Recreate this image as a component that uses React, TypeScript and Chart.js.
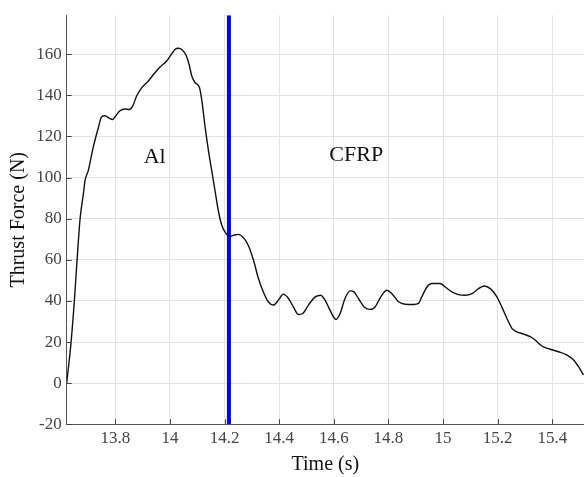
import React, { useEffect, useRef } from "react";
import { Chart, registerables } from "chart.js";

Chart.register(...registerables);

const times = [13.622,13.638,13.650,13.660,13.671,13.684,13.689,13.701,13.719,13.738,
13.750,13.762,13.778,13.790,13.799,13.817,13.836,13.851,13.864,13.878,
13.897,13.921,13.945,13.964,13.988,14.007,14.021,14.031,14.044,14.059,
14.070,14.080,14.092,14.108,14.117,14.129,14.141,14.153,14.165,14.177,
14.190,14.206,14.218,14.232,14.251,14.269,14.287,14.306,14.324,14.342,
14.360,14.379,14.397,14.415,14.434,14.452,14.470,14.486,14.507,14.532,
14.552,14.568,14.586,14.608,14.623,14.641,14.660,14.674,14.690,14.711,
14.733,14.751,14.772,14.794,14.812,14.837,14.861,14.892,14.910,14.922,
14.941,14.959,14.989,15.008,15.032,15.056,15.081,15.106,15.130,15.151,
15.173,15.197,15.215,15.234,15.252,15.270,15.295,15.319,15.337,15.362,
15.392,15.423,15.454,15.478,15.496,15.514];

const forces = [0,20,40,60,80,93,98.5,103.4,114.7,124.4,
129.6,130.1,128.9,128.3,129.6,132.5,133.4,133.1,134.9,139.7,
143.8,147,151,153.8,156.7,160.3,162.6,162.9,162.2,159.5,
155.1,149.4,146.2,143.8,137.3,124.4,113.1,103.4,93.7,84,
76.7,72.7,71.4,71.9,72.4,70.8,67,59.8,50.9,44.4,
39.6,38,40.4,43.3,41.2,37.1,33.4,33.9,38,42,
42.8,40.4,35.5,31,33.9,41.2,44.9,44.4,41.2,37.1,
35.9,37.1,42,45.2,43.6,39.6,38.4,38.3,38.8,42,
46.8,48.5,48.5,46.8,44.4,43.1,42.8,43.6,46,47.3,
46,42,37.1,31.5,26.7,25,23.9,22.6,21,18.1,
16.5,15.3,13.7,11.3,8,4];

const boundaryTime = 14.216;
const xRange = [13.622, 15.516];
const yRange = [-20, 179];
const regionLabels = ["Al", "CFRP"];
const regionLabelX = [13.944, 14.682];
const regionLabelY = [109.7, 110.7];

const SERIF = "'Liberation Serif', 'Times New Roman', serif";

const fmt = (v: number) => String(Number(Number(v).toFixed(2)));

export default function App() {
  const ref = useRef<HTMLCanvasElement>(null);
  useEffect(() => {
    if (!ref.current) return;
    const labelsPlugin = {
      id: "regionLabels",
      afterDatasetsDraw(chart: any) {
        const { ctx, scales } = chart;
        ctx.save();
        ctx.fillStyle = "#111";
        ctx.font = `22px ${SERIF}`;
        ctx.textAlign = "center";
        ctx.textBaseline = "middle";
        regionLabels.forEach((t, i) => {
          ctx.fillText(t, scales.x.getPixelForValue(regionLabelX[i]), scales.y.getPixelForValue(regionLabelY[i]));
        });
        ctx.restore();
      },
    };
    const innerTicks = {
      id: "innerTicks",
      afterDraw(chart: any) {
        const { ctx, chartArea, scales } = chart;
        ctx.save();
        ctx.strokeStyle = "#444";
        ctx.lineWidth = 1;
        ctx.beginPath();
        scales.x.ticks.forEach((t: any) => {
          const px = Math.round(scales.x.getPixelForValue(t.value)) + 0.5;
          ctx.moveTo(px, chartArea.bottom);
          ctx.lineTo(px, chartArea.bottom - 5);
        });
        scales.y.ticks.forEach((t: any) => {
          const py = Math.round(scales.y.getPixelForValue(t.value)) + 0.5;
          ctx.moveTo(chartArea.left, py);
          ctx.lineTo(chartArea.left + 5, py);
        });
        ctx.stroke();
        ctx.restore();
      },
    };
    const chart = new Chart(ref.current, {
      type: "line",
      data: {
        datasets: [
          {
            data: times.map((t, i) => ({ x: t, y: forces[i] })),
            borderColor: "#111",
            borderWidth: 1.4,
            pointRadius: 0,
            cubicInterpolationMode: "monotone",
            order: 1,
          },
          {
            data: [
              { x: boundaryTime, y: yRange[0] },
              { x: boundaryTime, y: yRange[1] },
            ],
            borderColor: "#0000ff",
            borderWidth: 4,
            pointRadius: 0,
            order: 2,
          },
        ],
      },
      options: {
        animation: false,
        responsive: true,
        maintainAspectRatio: false,
        layout: { padding: { top: 14, right: 0, bottom: 0, left: 0 } },
        plugins: { legend: { display: false }, tooltip: { enabled: false } },
        scales: {
          x: {
            type: "linear",
            min: xRange[0],
            max: xRange[1],
            afterFit: (s: any) => { s.height = 52.7; },
            ticks: {
              stepSize: 0.2,
              includeBounds: false,
              autoSkip: false,
              maxRotation: 0,
              padding: 4,
              color: "#444",
              font: { family: SERIF, size: 17 },
              callback: (v: any) => fmt(v),
            },
            grid: { color: "#e3e3e3", drawTicks: false },
            border: { color: "#555", width: 1 },
            title: {
              display: true,
              text: "Time (s)",
              color: "#111",
              font: { family: SERIF, size: 20 },
              padding: { top: 0, bottom: 0 },
            },
          },
          y: {
            type: "linear",
            min: yRange[0],
            max: yRange[1],
            afterFit: (s: any) => { s.width = 66.7; },
            ticks: {
              stepSize: 20,
              includeBounds: false,
              padding: 5,
              color: "#444",
              font: { family: SERIF, size: 17 },
              callback: (v: any) => fmt(v),
            },
            grid: { color: "#e3e3e3", drawTicks: false },
            border: { color: "#555", width: 1 },
            title: {
              display: true,
              text: "Thrust Force (N)",
              color: "#111",
              font: { family: SERIF, size: 20 },
              padding: { top: 7, bottom: 0 },
            },
          },
        },
      },
      plugins: [labelsPlugin, innerTicks],
    } as any);
    return () => chart.destroy();
  }, []);
  return (
    <div style={{ position: "absolute", left: 0, top: 0, width: 584, height: 477, background: "#fff" }}>
      <canvas ref={ref} />
    </div>
  );
}
